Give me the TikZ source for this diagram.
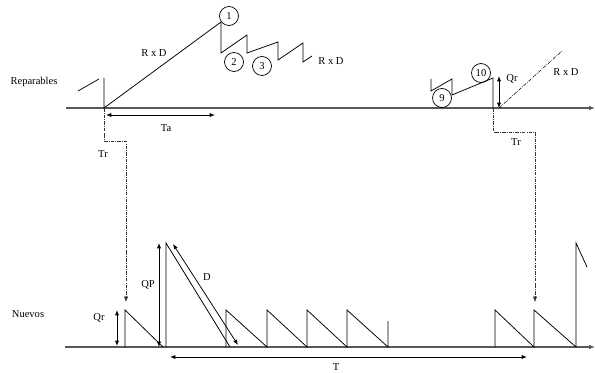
\documentclass[tikz,border=0pt]{standalone}
\usepackage{fontspec}
\setmainfont{Liberation Serif}
\usetikzlibrary{arrows.meta, positioning}

\begin{document}
\begin{tikzpicture}[
    x=0.03cm, y=-0.03cm,
    line width=0.65pt,
    lbl/.style={font=\fontsize{9}{10}\selectfont, inner sep=1pt},
    num/.style={circle, draw, line width=0.6pt, minimum size=0.57cm, inner sep=0pt, font=\fontsize{9}{10}\selectfont},
    axis/.style={draw=black!65, line width=1pt, -{Latex[length=5pt,width=4pt]}},
    dim/.style={{Latex[length=4.5pt,width=3.5pt]}-{Latex[length=4.5pt,width=3.5pt]}, line width=0.65pt},
    link/.style={densely dashdotted, draw=black!80, line width=0.45pt, -{Latex[length=4.5pt,width=3.5pt]}}
]
\useasboundingbox (0,0) rectangle (595,373);

% axes
\coordinate (ra) at (66,108);
\coordinate (rb) at (595,108);
\coordinate (na) at (65,347);
\coordinate (nb) at (595,347);
\draw[axis] (ra) -- (rb);
\draw[axis] (na) -- (nb);
\node[lbl] (rep) at (34,82) {Reparables};
\node[lbl] (nue) at (28,314) {Nuevos};

% reparables, left
\draw (78,91) -- (99,79);
\draw (104,78) -- (104,108) -- (221,22) -- (221,53) -- (247,35) -- (247,53)
      -- (278,42) -- (278,60) -- (303,43) -- (303,62) -- (312,56);
\node[num] (c1) at (229,16) {1};
\node[num] (c2) at (234,62) {2};
\node[num] (c3) at (262,66) {3};
\node[lbl] (rd1) at (154,53) {R x D};
\node[lbl] (rd2) at (331,61) {R x D};

\coordinate (ta1) at (106,115);
\coordinate (ta2) at (215,115);
\draw[dim] (ta1) -- (ta2);
\node[lbl] (ta) at (166,128) {Ta};

% reparables, right
\draw (431,79) -- (431,91) -- (452,79) -- (452,95) -- (493,78) -- (493,108);
\node[num] (c9) at (442,98) {9};
\node[num] (c10) at (481,73) {10};
\coordinate (qr1) at (499,76);
\coordinate (qr2) at (499,108);
\draw[dim] (qr1) -- (qr2);
\node[lbl] (qra) at (512,79) {Qr};
\coordinate (rd3) at (562,51);
\draw[densely dashdotted, line width=0.45pt] (qr2) -- (rd3);
\node[lbl] (rdr) at (566,72) {R x D};

% Tr links
\coordinate (t1) at (104,108);
\coordinate (t2) at (126,302);
\draw[link] (t1) -- (104,141) -| (t2);
\node[lbl] (tr1) at (103,154) {Tr};
\coordinate (t3) at (493,108);
\coordinate (t4) at (535,302);
\draw[link] (t3) -- (493,132) -| (t4);
\node[lbl] (tr2) at (516,142) {Tr};

% nuevos
\draw (125,347) -- (125,310) -- (163,347);
\draw (166,347) -- (166,243) -- (230,347);
\draw (226,347) -- (226,310) -- (267,347) -- (267,310) -- (307,347) -- (307,310)
      -- (347,347) -- (347,310) -- (388,347) -- (388,321);
\draw (495,347) -- (495,310) -- (534,347) -- (534,310) -- (576,347) -- (576,243) -- (587,267);

\coordinate (q1) at (117,310);
\coordinate (q2) at (117,346);
\draw[dim] (q1) -- (q2);
\node[lbl] (qrb) at (99,318) {Qr};

\coordinate (p1) at (159,243);
\coordinate (p2) at (159,347);
\draw[dim] (p1) -- (p2);
\node[lbl] (qp) at (148,285) {QP};

\coordinate (d1) at (173,244);
\coordinate (d2) at (238,345);
\draw[dim] (d1) -- (d2);
\node[lbl] (dd) at (207,277) {D};

\coordinate (tt1) at (170,357);
\coordinate (tt2) at (527,357);
\draw[dim] (tt1) -- (tt2);
\node[lbl] (tt) at (336,367) {T};
\end{tikzpicture}
\end{document}
